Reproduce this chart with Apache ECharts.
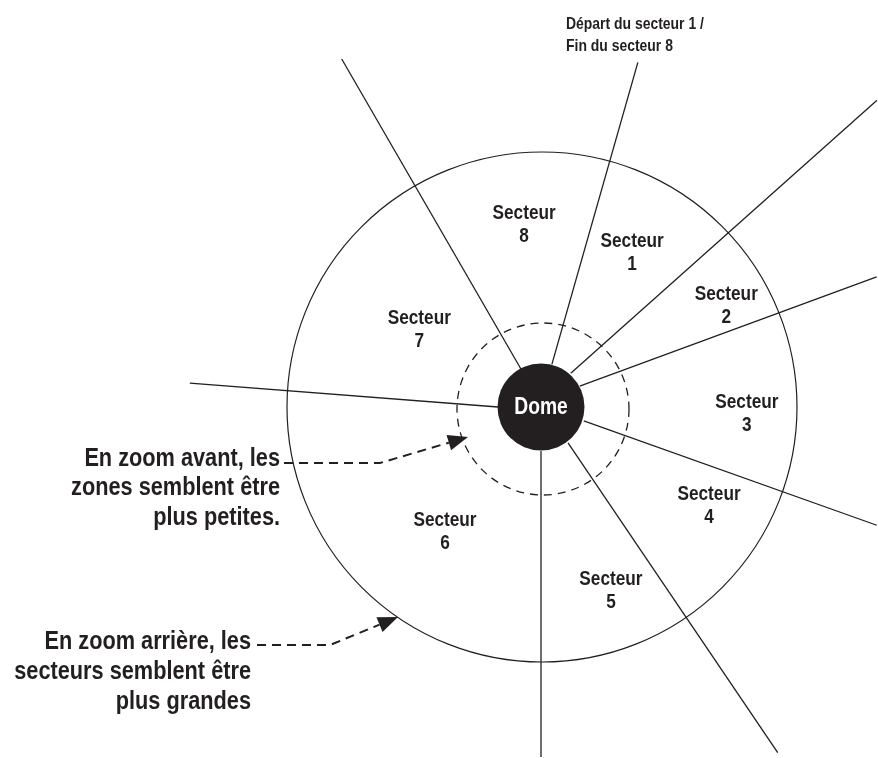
<!DOCTYPE html>
<html><head><meta charset="utf-8">
<script src="https://cdn.jsdelivr.net/npm/echarts@6/dist/echarts.min.js"></script>
<style>html,body{margin:0;padding:0;background:#fff}#c{width:878px;height:758px}</style>
</head><body><div id="c"></div>
<script>
const INK = '#231f20';
const FONT = "'Liberation Sans', Arial, sans-serif";
const NARROW = 0.82; // horizontal squeeze to mimic a condensed bold face

// Rays: inner point (dome edge) and outer end, as polar [radius px, angle deg]
const rayInnerRadius = [44, 45, 44, 45, 45, 44, 43, 43];
const rayInnerAngle  = [75.7, 48.6, 28.3, 342, 306.9, 270, 180, 117.8];
const rayOuterRadius = [358, 455, 360, 356, 419, 350, 352, 401];
const rayOuterAngle  = [74.3, 42.4, 21.2, 340.6, 304.4, 270, 176.1, 119.8];

// Sector labels
const sectorNames  = ['Secteur\n1','Secteur\n2','Secteur\n3','Secteur\n4','Secteur\n5','Secteur\n6','Secteur\n7','Secteur\n8'];
const sectorRadius = [179, 211, 206, 195, 197, 157, 144, 183];
const sectorAngle  = [59.4, 28.6, 358.1, 329.5, 290.8, 232.3, 147.7, 95.3];

// Rings
const domeLabel = 'Dome';
const domeRadius = 43.5;
const zoomRingRadius = 86;
const outerRingRadius = 255;

// Texts
const topLabel = 'Départ du secteur 1 /\nFin du secteur 8';
const noteIn  = 'En zoom avant, les\nzones semblent être\nplus petites.';
const noteOut = 'En zoom arrière, les\nsecteurs semblent être\nplus grandes';

function arrow(points, tip) {
  const prev = points[points.length - 1];
  const dx = tip[0] - prev[0], dy = tip[1] - prev[1];
  const L = Math.hypot(dx, dy), ux = dx / L, uy = dy / L;
  const len = 20, hw = 8;
  const bx = tip[0] - ux * len, by = tip[1] - uy * len;
  return [
    {type: 'polyline', silent: true, shape: {points: points.concat([[bx, by]])},
     style: {stroke: INK, lineWidth: 2, lineDash: [9, 6], fill: null}},
    {type: 'polygon', silent: true,
     shape: {points: [tip, [bx - uy * hw, by + ux * hw], [bx + uy * hw, by - ux * hw]]},
     style: {fill: INK}}
  ];
}

function textEl(x, y, text, size, lh, align, fill) {
  return {type: 'text', x: x, y: y, scaleX: NARROW, silent: true,
    style: {text: text, fill: fill || INK, fontSize: size, fontWeight: 'bold', fontFamily: FONT,
            lineHeight: lh, align: align, verticalAlign: 'middle'}};
}

const chart = echarts.init(document.getElementById('c'), null, {renderer: 'canvas'});

const raySeries = rayOuterRadius.map((r, i) => ({
  type: 'line', coordinateSystem: 'polar', polarIndex: 0, symbol: 'none', silent: true,
  lineStyle: {color: INK, width: 1.3},
  data: [[rayInnerRadius[i], rayInnerAngle[i]], [r, rayOuterAngle[i]]]
}));

const option = {
  animation: false,
  backgroundColor: '#ffffff',
  polar: [
    {center: [541, 407], radius: 455},
    {center: [542, 407], radius: outerRingRadius},
    {center: [543, 409], radius: zoomRingRadius}
  ],
  angleAxis: [
    {polarIndex: 0, type: 'value', min: 0, max: 360, startAngle: 0, clockwise: false, show: false},
    {polarIndex: 1, type: 'value', min: 0, max: 360, axisLine: {show: true, lineStyle: {color: INK, width: 1.2}},
     axisTick: {show: false}, axisLabel: {show: false}, splitLine: {show: false}},
    {polarIndex: 2, type: 'value', min: 0, max: 360, axisLine: {show: true, lineStyle: {color: INK, width: 1.3, type: [8, 6]}},
     axisTick: {show: false}, axisLabel: {show: false}, splitLine: {show: false}}
  ],
  radiusAxis: [
    {polarIndex: 0, type: 'value', min: 0, max: 455, show: false},
    {polarIndex: 1, type: 'value', min: 0, max: 1, show: false},
    {polarIndex: 2, type: 'value', min: 0, max: 1, show: false}
  ],
  series: raySeries.concat([
    {
      type: 'custom', coordinateSystem: 'polar', polarIndex: 0, silent: true, z: 3,
      data: sectorNames.map((n, i) => [sectorRadius[i], sectorAngle[i], i]),
      renderItem: function (params, api) {
        const p = api.coord([api.value(0), api.value(1)]);
        return textEl(p[0], p[1], sectorNames[api.value(2)], 21, 23, 'center');
      }
    },
    {
      type: 'pie', center: [541, 407], radius: [0, domeRadius], silent: true, z: 4,
      itemStyle: {color: INK}, label: {show: false}, labelLine: {show: false},
      data: [{value: 1, name: domeLabel}]
    },
    {
      type: 'custom', coordinateSystem: 'polar', polarIndex: 0, silent: true, z: 5,
      data: [[0, 0]],
      renderItem: function (params, api) {
        const p = api.coord([api.value(0), api.value(1)]);
        return textEl(p[0], p[1] + 1, domeLabel, 23.5, 26, 'center', '#ffffff');
      }
    }
  ]),
  graphic: [
    textEl(566, 35, topLabel, 17, 22, 'left'),
    textEl(280, 488, noteIn, 26.5, 29.5, 'right'),
    textEl(251, 672, noteOut, 26.5, 30, 'right')
  ].concat(arrow([[284, 463], [380, 463]], [468, 437]))
   .concat(arrow([[257, 645], [330, 645]], [398, 617]))
};
chart.setOption(option);
</script>
</body></html>
